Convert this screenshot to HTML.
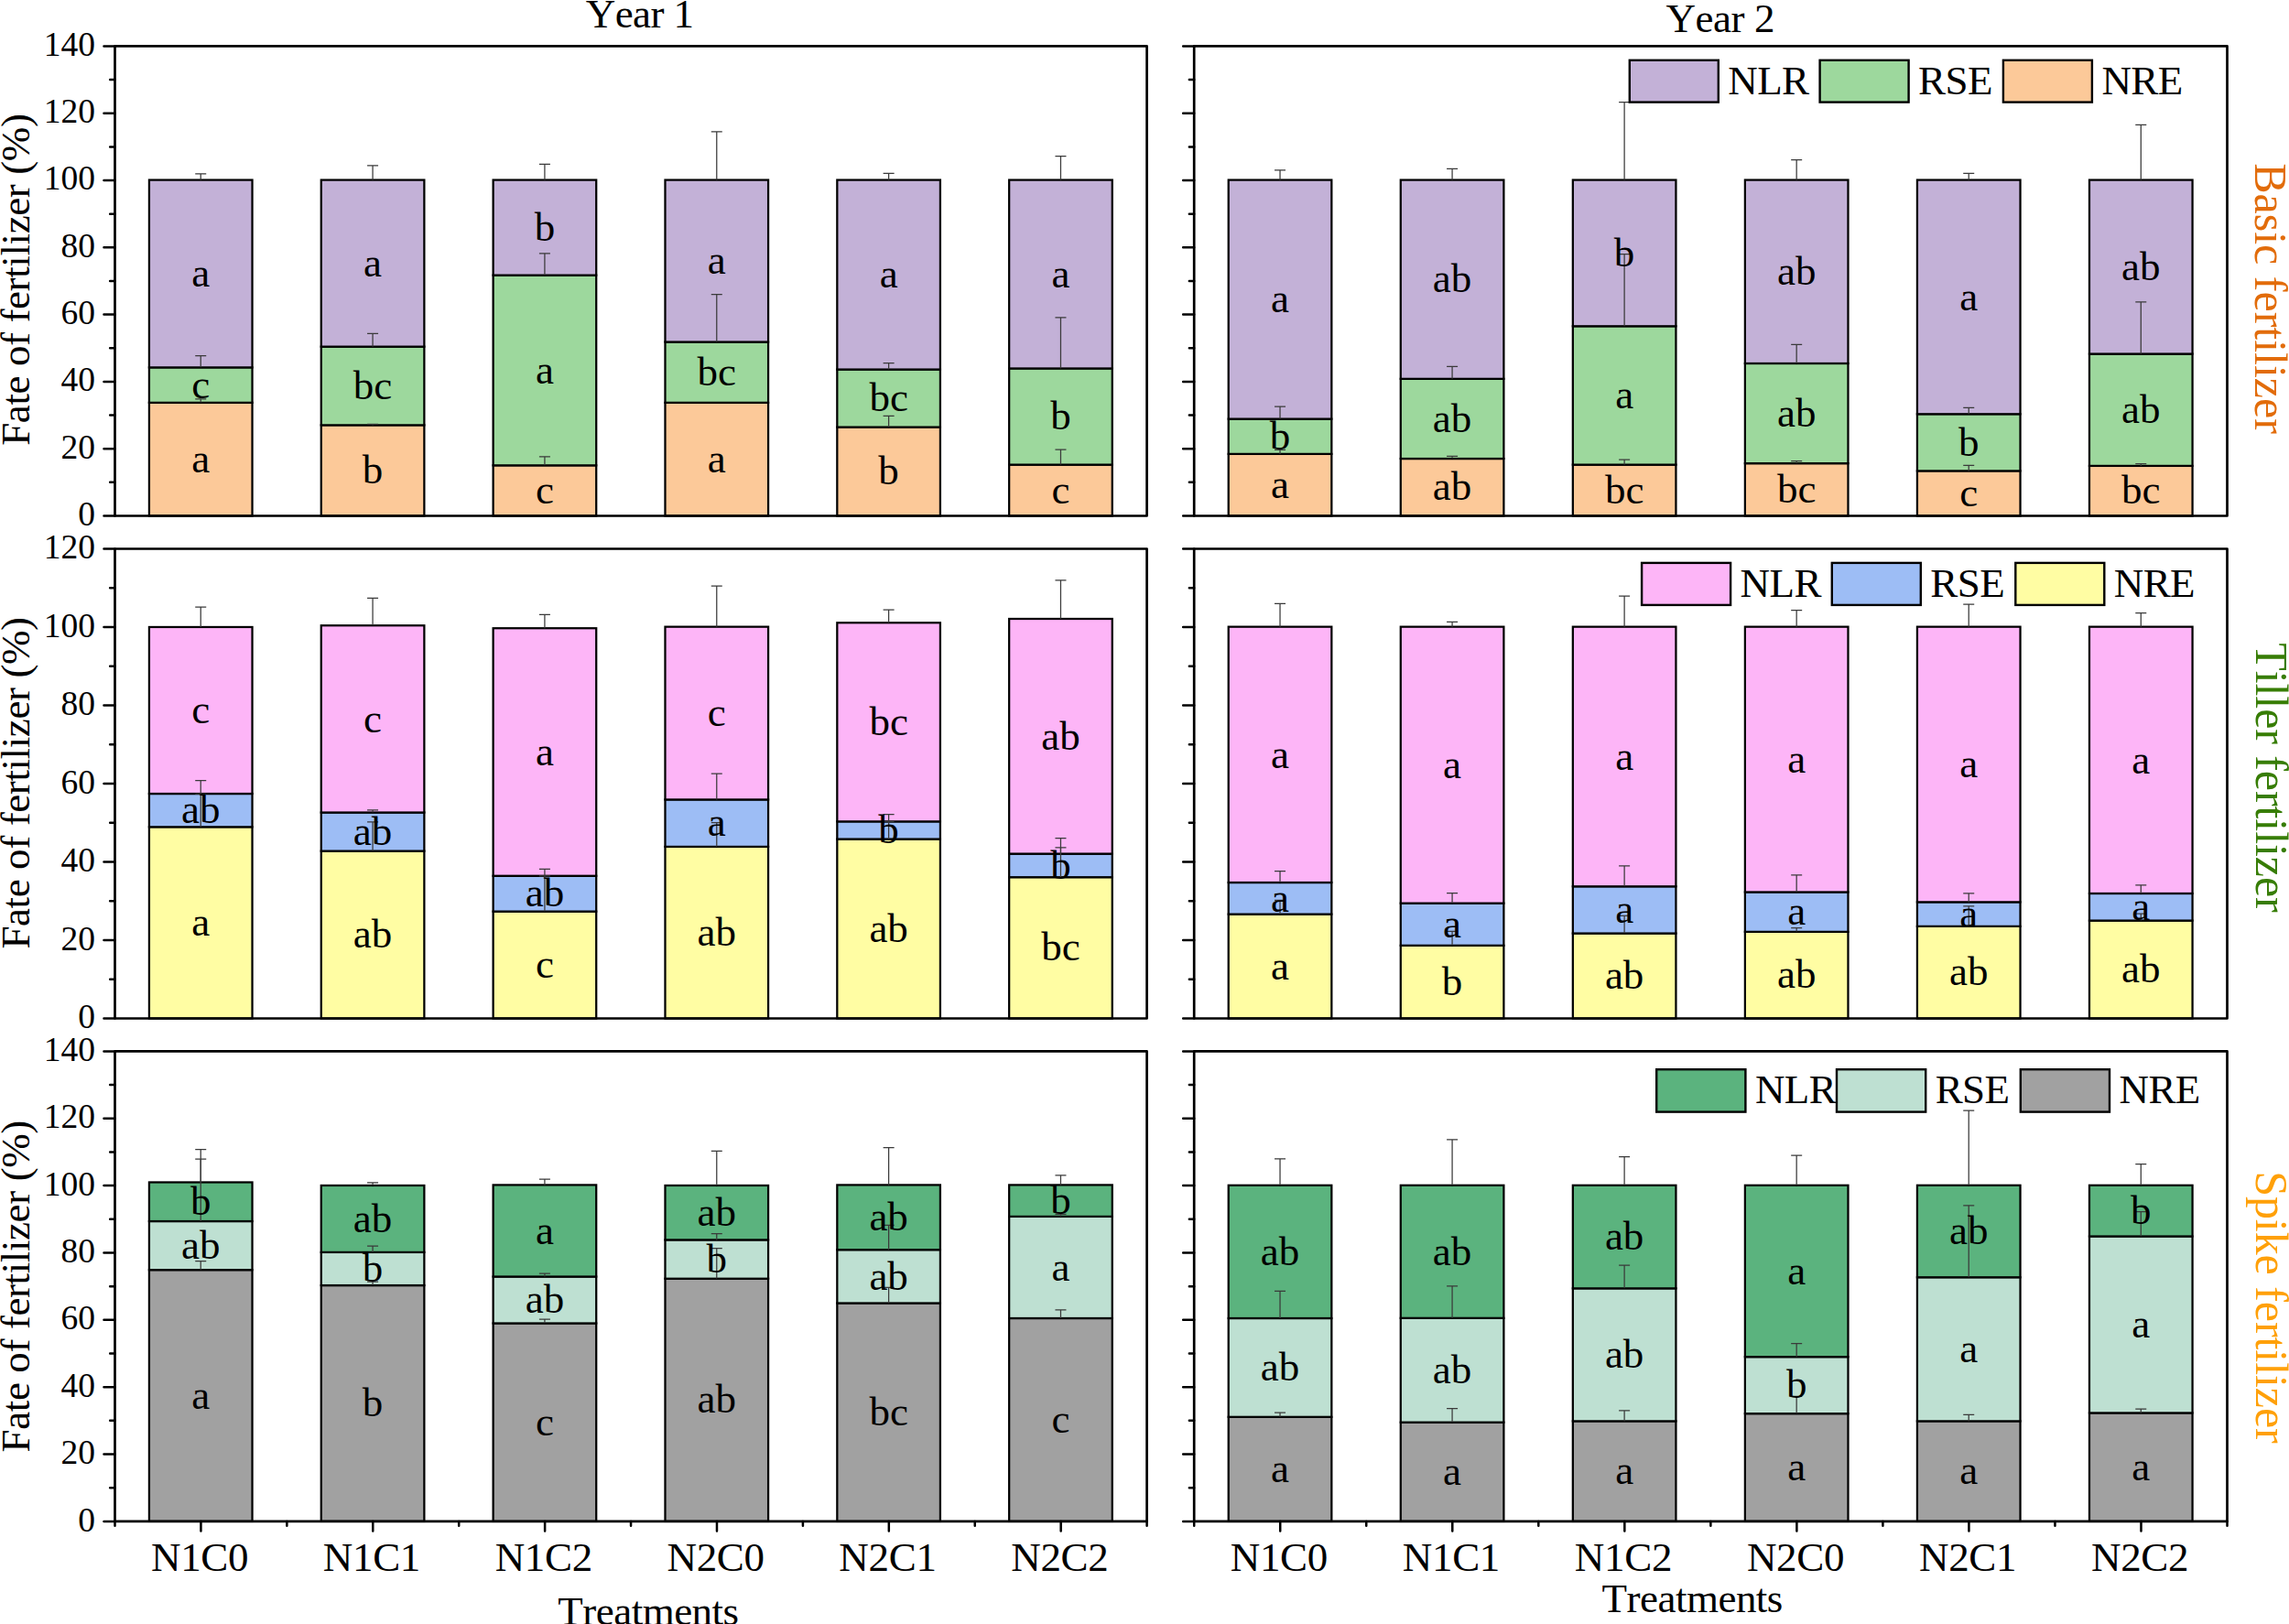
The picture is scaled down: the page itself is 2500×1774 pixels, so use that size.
<!DOCTYPE html>
<html lang="en"><head><meta charset="utf-8"><title>Fate of fertilizer</title>
<style>
html,body{margin:0;padding:0;background:#fff;}
body{width:2500px;height:1774px;overflow:hidden;}
svg{display:block;}
text{font-family:"Liberation Serif","Times New Roman",Times,serif;font-kerning:none;fill:#000;}
.t{font-size:45px;}
.m{font-size:45px;text-anchor:middle;}
.y{font-size:37.5px;text-anchor:end;}
.r{font-size:50px;}
.ax{stroke:#000;stroke-width:2.7;fill:none;stroke-linejoin:round;}
.tk{stroke:#000;stroke-width:2.5;fill:none;stroke-linecap:round;}
.b{stroke:#000;stroke-width:2.25;stroke-linejoin:miter;}
.e{stroke:#3a3a3a;stroke-width:1.25;fill:none;}
</style></head><body>
<svg width="2500" height="1774" viewBox="0 0 2500 1774">
<rect x="0" y="0" width="2500" height="1774" fill="#fff"/>
<g>
<rect class="b" x="162.93" y="439.84" width="112.6" height="123.66" fill="#FCC999"/>
<rect class="b" x="162.93" y="401.37" width="112.6" height="38.47" fill="#9DD89D"/>
<rect class="b" x="162.93" y="196.58" width="112.6" height="204.79" fill="#C3B1D7"/>
<rect class="b" x="350.77" y="464.38" width="112.6" height="99.12" fill="#FCC999"/>
<rect class="b" x="350.77" y="378.66" width="112.6" height="85.73" fill="#9DD89D"/>
<rect class="b" x="350.77" y="196.58" width="112.6" height="182.08" fill="#C3B1D7"/>
<rect class="b" x="538.62" y="508.35" width="112.6" height="55.15" fill="#FCC999"/>
<rect class="b" x="538.62" y="300.62" width="112.6" height="207.72" fill="#9DD89D"/>
<rect class="b" x="538.62" y="196.58" width="112.6" height="104.05" fill="#C3B1D7"/>
<rect class="b" x="726.48" y="439.84" width="112.6" height="123.66" fill="#FCC999"/>
<rect class="b" x="726.48" y="373.53" width="112.6" height="66.31" fill="#9DD89D"/>
<rect class="b" x="726.48" y="196.58" width="112.6" height="176.95" fill="#C3B1D7"/>
<rect class="b" x="914.32" y="466.58" width="112.6" height="96.92" fill="#FCC999"/>
<rect class="b" x="914.32" y="403.57" width="112.6" height="63.01" fill="#9DD89D"/>
<rect class="b" x="914.32" y="196.58" width="112.6" height="206.99" fill="#C3B1D7"/>
<rect class="b" x="1102.17" y="507.61" width="112.6" height="55.89" fill="#FCC999"/>
<rect class="b" x="1102.17" y="402.47" width="112.6" height="105.14" fill="#9DD89D"/>
<rect class="b" x="1102.17" y="196.58" width="112.6" height="205.89" fill="#C3B1D7"/>
<path class="e" d="M219.23 439.84V435.81M213.23 435.81H225.23"/>
<path class="e" d="M219.23 401.37V388.55M213.23 388.55H225.23"/>
<path class="e" d="M219.23 196.58V189.98M213.23 189.98H225.23"/>
<path class="e" d="M407.07 464.38V463.28M401.07 463.28H413.07"/>
<path class="e" d="M407.07 378.66V364.37M401.07 364.37H413.07"/>
<path class="e" d="M407.07 196.58V180.82M401.07 180.82H413.07"/>
<path class="e" d="M594.92 508.35V498.82M588.92 498.82H600.92"/>
<path class="e" d="M594.92 300.62V276.81M588.92 276.81H600.92"/>
<path class="e" d="M594.92 196.58V179.36M588.92 179.36H600.92"/>
<path class="e" d="M782.77 373.53V321.5M776.77 321.5H788.77"/>
<path class="e" d="M782.77 196.58V143.82M776.77 143.82H788.77"/>
<path class="e" d="M970.62 466.58V454.49M964.62 454.49H976.62"/>
<path class="e" d="M970.62 403.57V396.61M964.62 396.61H976.62"/>
<path class="e" d="M970.62 196.58V189.25M964.62 189.25H976.62"/>
<path class="e" d="M1158.47 507.61V491.13M1152.47 491.13H1164.47"/>
<path class="e" d="M1158.47 402.47V346.78M1152.47 346.78H1164.47"/>
<path class="e" d="M1158.47 196.58V170.57M1152.47 170.57H1164.47"/>
<text class="m" x="219.23" y="515.77">a</text>
<text class="m" x="219.23" y="434.8">c</text>
<text class="m" x="219.23" y="313.17">a</text>
<text class="m" x="407.07" y="528.04">b</text>
<text class="m" x="407.07" y="435.72">bc</text>
<text class="m" x="407.07" y="301.82">a</text>
<text class="m" x="594.92" y="550.02">c</text>
<text class="m" x="594.92" y="418.68">a</text>
<text class="m" x="594.92" y="262.8">b</text>
<text class="m" x="782.77" y="515.77">a</text>
<text class="m" x="782.77" y="420.88">bc</text>
<text class="m" x="782.77" y="299.25">a</text>
<text class="m" x="970.62" y="529.14">b</text>
<text class="m" x="970.62" y="449.27">bc</text>
<text class="m" x="970.62" y="314.27">a</text>
<text class="m" x="1158.47" y="549.66">c</text>
<text class="m" x="1158.47" y="469.24">b</text>
<text class="m" x="1158.47" y="313.72">a</text>
<path class="ax" d="M125.5 50.45H1252.6V563.5H125.5V50.45Z"/>
<text class="y" x="103.9" y="573.9">0</text>
<text class="y" x="103.9" y="500.61">20</text>
<text class="y" x="103.9" y="427.31">40</text>
<text class="y" x="103.9" y="354.02">60</text>
<text class="y" x="103.9" y="280.73">80</text>
<text class="y" x="103.9" y="207.44">100</text>
<text class="y" x="103.9" y="134.14">120</text>
<text class="y" x="103.9" y="60.85">140</text>
<path class="tk" d="M113.45 563.5H125.5M120.15 526.85H125.5M113.45 490.21H125.5M120.15 453.56H125.5M113.45 416.91H125.5M120.15 380.27H125.5M113.45 343.62H125.5M120.15 306.98H125.5M113.45 270.33H125.5M120.15 233.68H125.5M113.45 197.04H125.5M120.15 160.39H125.5M113.45 123.74H125.5M120.15 87.1H125.5M113.45 50.45H125.5"/>
</g>
<g>
<rect class="b" x="1341.73" y="495.89" width="112.6" height="67.61" fill="#FCC999"/>
<rect class="b" x="1341.73" y="457.61" width="112.6" height="38.28" fill="#9DD89D"/>
<rect class="b" x="1341.73" y="196.58" width="112.6" height="261.03" fill="#C3B1D7"/>
<rect class="b" x="1529.78" y="501.02" width="112.6" height="62.48" fill="#FCC999"/>
<rect class="b" x="1529.78" y="413.83" width="112.6" height="87.19" fill="#9DD89D"/>
<rect class="b" x="1529.78" y="196.58" width="112.6" height="217.25" fill="#C3B1D7"/>
<rect class="b" x="1717.83" y="507.61" width="112.6" height="55.89" fill="#FCC999"/>
<rect class="b" x="1717.83" y="356.31" width="112.6" height="151.31" fill="#9DD89D"/>
<rect class="b" x="1717.83" y="196.58" width="112.6" height="159.73" fill="#C3B1D7"/>
<rect class="b" x="1905.88" y="506.15" width="112.6" height="57.35" fill="#FCC999"/>
<rect class="b" x="1905.88" y="396.97" width="112.6" height="109.17" fill="#9DD89D"/>
<rect class="b" x="1905.88" y="196.58" width="112.6" height="200.4" fill="#C3B1D7"/>
<rect class="b" x="2093.93" y="514.39" width="112.6" height="49.11" fill="#FCC999"/>
<rect class="b" x="2093.93" y="452.29" width="112.6" height="62.1" fill="#9DD89D"/>
<rect class="b" x="2093.93" y="196.58" width="112.6" height="255.72" fill="#C3B1D7"/>
<rect class="b" x="2281.97" y="508.9" width="112.6" height="54.6" fill="#FCC999"/>
<rect class="b" x="2281.97" y="386.53" width="112.6" height="122.36" fill="#9DD89D"/>
<rect class="b" x="2281.97" y="196.58" width="112.6" height="189.96" fill="#C3B1D7"/>
<path class="e" d="M1398.03 495.89V491.49M1392.03 491.49H1404.03"/>
<path class="e" d="M1398.03 457.61V444.23M1392.03 444.23H1404.03"/>
<path class="e" d="M1398.03 196.58V185.95M1392.03 185.95H1404.03"/>
<path class="e" d="M1586.08 501.02V498.45M1580.08 498.45H1592.08"/>
<path class="e" d="M1586.08 413.83V400.27M1580.08 400.27H1592.08"/>
<path class="e" d="M1586.08 196.58V184.49M1580.08 184.49H1592.08"/>
<path class="e" d="M1774.12 507.61V502.12M1768.12 502.12H1780.12"/>
<path class="e" d="M1774.12 356.31V277.54M1768.12 277.54H1780.12"/>
<path class="e" d="M1774.12 196.58V111.58M1768.12 111.58H1780.12"/>
<path class="e" d="M1962.17 506.15V503.58M1956.17 503.58H1968.17"/>
<path class="e" d="M1962.17 396.97V376.46M1956.17 376.46H1968.17"/>
<path class="e" d="M1962.17 196.58V174.6M1956.17 174.6H1968.17"/>
<path class="e" d="M2150.23 514.39V508.35M2144.23 508.35H2156.23"/>
<path class="e" d="M2150.23 452.29V445.33M2144.23 445.33H2156.23"/>
<path class="e" d="M2150.23 196.58V189.25M2144.23 189.25H2156.23"/>
<path class="e" d="M2338.28 508.9V506.51M2332.28 506.51H2344.28"/>
<path class="e" d="M2338.28 386.53V329.75M2332.28 329.75H2344.28"/>
<path class="e" d="M2338.28 196.58V136.49M2332.28 136.49H2344.28"/>
<text class="m" x="1398.03" y="543.8">a</text>
<text class="m" x="1398.03" y="490.95">b</text>
<text class="m" x="1398.03" y="341.29">a</text>
<text class="m" x="1586.08" y="546.36">ab</text>
<text class="m" x="1586.08" y="471.62">ab</text>
<text class="m" x="1586.08" y="319.4">ab</text>
<text class="m" x="1774.12" y="549.66">bc</text>
<text class="m" x="1774.12" y="446.16">a</text>
<text class="m" x="1774.12" y="290.64">b</text>
<text class="m" x="1962.17" y="548.92">bc</text>
<text class="m" x="1962.17" y="465.76">ab</text>
<text class="m" x="1962.17" y="310.98">ab</text>
<text class="m" x="2150.23" y="553.05">c</text>
<text class="m" x="2150.23" y="497.54">b</text>
<text class="m" x="2150.23" y="338.64">a</text>
<text class="m" x="2338.28" y="550.3">bc</text>
<text class="m" x="2338.28" y="461.91">ab</text>
<text class="m" x="2338.28" y="305.75">ab</text>
<path class="ax" d="M1304.2 50.45H2432.5V563.5H1304.2V50.45Z"/>
<path class="tk" d="M1292.15 563.5H1304.2M1298.85 526.85H1304.2M1292.15 490.21H1304.2M1298.85 453.56H1304.2M1292.15 416.91H1304.2M1298.85 380.27H1304.2M1292.15 343.62H1304.2M1298.85 306.98H1304.2M1292.15 270.33H1304.2M1298.85 233.68H1304.2M1292.15 197.04H1304.2M1298.85 160.39H1304.2M1292.15 123.74H1304.2M1298.85 87.1H1304.2M1292.15 50.45H1304.2"/>
</g>
<g>
<text class="t" x="1887.3" y="102.6" textLength="88.8" lengthAdjust="spacing">NLR</text>
<text class="t" x="2095.1" y="102.6" textLength="81.33" lengthAdjust="spacing">RSE</text>
<text class="t" x="2295.4" y="102.6" textLength="88.8" lengthAdjust="spacing">NRE</text>
<rect x="1779.8" y="65.8" width="97" height="45.8" fill="#C3B1D7" stroke="#000" stroke-width="2.4"/>
<rect x="1987.6" y="65.8" width="97" height="45.8" fill="#9DD89D" stroke="#000" stroke-width="2.4"/>
<rect x="2187.9" y="65.8" width="97" height="45.8" fill="#FCC999" stroke="#000" stroke-width="2.4"/>
</g>
<g>
<rect class="b" x="162.93" y="903.33" width="112.6" height="209.17" fill="#FFFDA3"/>
<rect class="b" x="162.93" y="867.01" width="112.6" height="36.32" fill="#9DBDF5"/>
<rect class="b" x="162.93" y="684.97" width="112.6" height="182.04" fill="#FDB5F7"/>
<rect class="b" x="350.77" y="929.62" width="112.6" height="182.88" fill="#FFFDA3"/>
<rect class="b" x="350.77" y="887.52" width="112.6" height="42.09" fill="#9DBDF5"/>
<rect class="b" x="350.77" y="683.26" width="112.6" height="204.27" fill="#FDB5F7"/>
<rect class="b" x="538.62" y="995.64" width="112.6" height="116.86" fill="#FFFDA3"/>
<rect class="b" x="538.62" y="956.75" width="112.6" height="38.89" fill="#9DBDF5"/>
<rect class="b" x="538.62" y="686.25" width="112.6" height="270.5" fill="#FDB5F7"/>
<rect class="b" x="726.48" y="924.91" width="112.6" height="187.59" fill="#FFFDA3"/>
<rect class="b" x="726.48" y="873.42" width="112.6" height="51.49" fill="#9DBDF5"/>
<rect class="b" x="726.48" y="684.67" width="112.6" height="188.75" fill="#FDB5F7"/>
<rect class="b" x="914.32" y="916.58" width="112.6" height="195.92" fill="#FFFDA3"/>
<rect class="b" x="914.32" y="897.35" width="112.6" height="19.23" fill="#9DBDF5"/>
<rect class="b" x="914.32" y="680.27" width="112.6" height="217.09" fill="#FDB5F7"/>
<rect class="b" x="1102.17" y="958.2" width="112.6" height="154.3" fill="#FFFDA3"/>
<rect class="b" x="1102.17" y="932.61" width="112.6" height="25.6" fill="#9DBDF5"/>
<rect class="b" x="1102.17" y="675.99" width="112.6" height="256.61" fill="#FDB5F7"/>
<path class="e" d="M219.23 903.33V867.01M213.23 867.01H225.23"/>
<path class="e" d="M219.23 867.01V852.69M213.23 852.69H225.23"/>
<path class="e" d="M219.23 684.97V663.17M213.23 663.17H225.23"/>
<path class="e" d="M407.07 929.62V897.78M401.07 897.78H413.07"/>
<path class="e" d="M407.07 887.52V884.96M401.07 884.96H413.07"/>
<path class="e" d="M407.07 683.26V653.34M401.07 653.34H413.07"/>
<path class="e" d="M594.92 995.64V956.75M588.92 956.75H600.92"/>
<path class="e" d="M594.92 956.75V949.49M588.92 949.49H600.92"/>
<path class="e" d="M594.92 686.25V671.29M588.92 671.29H600.92"/>
<path class="e" d="M782.77 924.91V898.63M776.77 898.63H788.77"/>
<path class="e" d="M782.77 873.42V845.22M776.77 845.22H788.77"/>
<path class="e" d="M782.77 684.67V640.1M776.77 640.1H788.77"/>
<path class="e" d="M970.62 916.58V897.35M964.62 897.35H976.62"/>
<path class="e" d="M970.62 897.35V889.66M964.62 889.66H976.62"/>
<path class="e" d="M970.62 680.27V666.16M964.62 666.16H976.62"/>
<path class="e" d="M1158.47 958.2V925.77M1152.47 925.77H1164.47"/>
<path class="e" d="M1158.47 932.61V915.73M1152.47 915.73H1164.47"/>
<path class="e" d="M1158.47 675.99V633.86M1152.47 633.86H1164.47"/>
<text class="m" x="219.23" y="1022.02">a</text>
<text class="m" x="219.23" y="899.37">ab</text>
<text class="m" x="219.23" y="790.19">c</text>
<text class="m" x="407.07" y="1035.16">ab</text>
<text class="m" x="407.07" y="922.77">ab</text>
<text class="m" x="407.07" y="799.59">c</text>
<text class="m" x="594.92" y="1068.17">c</text>
<text class="m" x="594.92" y="990.39">ab</text>
<text class="m" x="594.92" y="835.7">a</text>
<text class="m" x="782.77" y="1032.81">ab</text>
<text class="m" x="782.77" y="913.37">a</text>
<text class="m" x="782.77" y="793.24">c</text>
<text class="m" x="970.62" y="1028.64">ab</text>
<text class="m" x="970.62" y="921.17">b</text>
<text class="m" x="970.62" y="803.01">bc</text>
<text class="m" x="1158.47" y="1049.45">bc</text>
<text class="m" x="1158.47" y="959.6">b</text>
<text class="m" x="1158.47" y="818.5">ab</text>
<path class="ax" d="M125.5 599.5H1252.6V1112.5H125.5V599.5Z"/>
<text class="y" x="103.9" y="1123.1">0</text>
<text class="y" x="103.9" y="1037.6">20</text>
<text class="y" x="103.9" y="952.1">40</text>
<text class="y" x="103.9" y="866.6">60</text>
<text class="y" x="103.9" y="781.1">80</text>
<text class="y" x="103.9" y="695.6">100</text>
<text class="y" x="103.9" y="610.1">120</text>
<path class="tk" d="M113.45 1112.5H125.5M120.15 1069.75H125.5M113.45 1027H125.5M120.15 984.25H125.5M113.45 941.5H125.5M120.15 898.75H125.5M113.45 856H125.5M120.15 813.25H125.5M113.45 770.5H125.5M120.15 727.75H125.5M113.45 685H125.5M120.15 642.25H125.5M113.45 599.5H125.5"/>
</g>
<g>
<rect class="b" x="1341.73" y="998.63" width="112.6" height="113.87" fill="#FFFDA3"/>
<rect class="b" x="1341.73" y="964.02" width="112.6" height="34.61" fill="#9DBDF5"/>
<rect class="b" x="1341.73" y="684.67" width="112.6" height="279.35" fill="#FDB5F7"/>
<rect class="b" x="1529.78" y="1032.82" width="112.6" height="79.68" fill="#FFFDA3"/>
<rect class="b" x="1529.78" y="986.66" width="112.6" height="46.15" fill="#9DBDF5"/>
<rect class="b" x="1529.78" y="684.67" width="112.6" height="302" fill="#FDB5F7"/>
<rect class="b" x="1717.83" y="1019.57" width="112.6" height="92.93" fill="#FFFDA3"/>
<rect class="b" x="1717.83" y="968.29" width="112.6" height="51.28" fill="#9DBDF5"/>
<rect class="b" x="1717.83" y="684.67" width="112.6" height="283.62" fill="#FDB5F7"/>
<rect class="b" x="1905.88" y="1017.86" width="112.6" height="94.64" fill="#FFFDA3"/>
<rect class="b" x="1905.88" y="974.49" width="112.6" height="43.37" fill="#9DBDF5"/>
<rect class="b" x="1905.88" y="684.67" width="112.6" height="289.82" fill="#FDB5F7"/>
<rect class="b" x="2093.93" y="1011.88" width="112.6" height="100.62" fill="#FFFDA3"/>
<rect class="b" x="2093.93" y="985.38" width="112.6" height="26.49" fill="#9DBDF5"/>
<rect class="b" x="2093.93" y="684.67" width="112.6" height="300.71" fill="#FDB5F7"/>
<rect class="b" x="2281.97" y="1005.59" width="112.6" height="106.91" fill="#FFFDA3"/>
<rect class="b" x="2281.97" y="975.98" width="112.6" height="29.61" fill="#9DBDF5"/>
<rect class="b" x="2281.97" y="684.67" width="112.6" height="291.31" fill="#FDB5F7"/>
<path class="e" d="M1398.03 998.63V983.25M1392.03 983.25H1404.03"/>
<path class="e" d="M1398.03 964.02V951.62M1392.03 951.62H1404.03"/>
<path class="e" d="M1398.03 684.67V659.33M1392.03 659.33H1404.03"/>
<path class="e" d="M1586.08 1032.82V1017.43M1580.08 1017.43H1592.08"/>
<path class="e" d="M1586.08 986.66V975.55M1580.08 975.55H1592.08"/>
<path class="e" d="M1586.08 684.67V679.41M1580.08 679.41H1592.08"/>
<path class="e" d="M1774.12 1019.57V1000.34M1768.12 1000.34H1780.12"/>
<path class="e" d="M1774.12 968.29V945.81M1768.12 945.81H1780.12"/>
<path class="e" d="M1774.12 684.67V651.21M1768.12 651.21H1780.12"/>
<path class="e" d="M1962.17 1017.86V1013.59M1956.17 1013.59H1968.17"/>
<path class="e" d="M1962.17 974.49V955.9M1956.17 955.9H1968.17"/>
<path class="e" d="M1962.17 684.67V666.59M1956.17 666.59H1968.17"/>
<path class="e" d="M2150.23 1011.88V989.87M2144.23 989.87H2156.23"/>
<path class="e" d="M2150.23 985.38V975.98M2144.23 975.98H2156.23"/>
<path class="e" d="M2150.23 684.67V660.18M2144.23 660.18H2156.23"/>
<path class="e" d="M2338.28 1005.59V998.2M2332.28 998.2H2344.28"/>
<path class="e" d="M2338.28 975.98V966.79M2332.28 966.79H2344.28"/>
<path class="e" d="M2338.28 684.67V669.58M2332.28 669.58H2344.28"/>
<text class="m" x="1398.03" y="1069.66">a</text>
<text class="m" x="1398.03" y="995.52">a</text>
<text class="m" x="1398.03" y="838.54">a</text>
<text class="m" x="1586.08" y="1086.76">b</text>
<text class="m" x="1586.08" y="1023.94">a</text>
<text class="m" x="1586.08" y="849.87">a</text>
<text class="m" x="1774.12" y="1080.13">ab</text>
<text class="m" x="1774.12" y="1008.13">a</text>
<text class="m" x="1774.12" y="840.68">a</text>
<text class="m" x="1962.17" y="1079.28">ab</text>
<text class="m" x="1962.17" y="1010.37">a</text>
<text class="m" x="1962.17" y="843.78">a</text>
<text class="m" x="2150.23" y="1076.29">ab</text>
<text class="m" x="2150.23" y="1012.83">a</text>
<text class="m" x="2150.23" y="849.22">a</text>
<text class="m" x="2338.28" y="1073.15">ab</text>
<text class="m" x="2338.28" y="1004.99">a</text>
<text class="m" x="2338.28" y="844.52">a</text>
<path class="ax" d="M1304.2 599.5H2432.5V1112.5H1304.2V599.5Z"/>
<path class="tk" d="M1292.15 1112.5H1304.2M1298.85 1069.75H1304.2M1292.15 1027H1304.2M1298.85 984.25H1304.2M1292.15 941.5H1304.2M1298.85 898.75H1304.2M1292.15 856H1304.2M1298.85 813.25H1304.2M1292.15 770.5H1304.2M1298.85 727.75H1304.2M1292.15 685H1304.2M1298.85 642.25H1304.2M1292.15 599.5H1304.2"/>
</g>
<g>
<text class="t" x="1900.6" y="651.8" textLength="88.8" lengthAdjust="spacing">NLR</text>
<text class="t" x="2108.3" y="651.8" textLength="81.33" lengthAdjust="spacing">RSE</text>
<text class="t" x="2308.8" y="651.8" textLength="88.8" lengthAdjust="spacing">NRE</text>
<rect x="1793.1" y="614.9" width="97" height="46" fill="#FDB5F7" stroke="#000" stroke-width="2.4"/>
<rect x="2000.8" y="614.9" width="97" height="46" fill="#9DBDF5" stroke="#000" stroke-width="2.4"/>
<rect x="2201.3" y="614.9" width="97" height="46" fill="#FFFDA3" stroke="#000" stroke-width="2.4"/>
</g>
<g>
<rect class="b" x="162.93" y="1387.2" width="112.6" height="274.7" fill="#A1A1A1"/>
<rect class="b" x="162.93" y="1334.02" width="112.6" height="53.17" fill="#BEE0D2"/>
<rect class="b" x="162.93" y="1291.49" width="112.6" height="42.54" fill="#5BB37E"/>
<rect class="b" x="350.77" y="1404.07" width="112.6" height="257.83" fill="#A1A1A1"/>
<rect class="b" x="350.77" y="1367.91" width="112.6" height="36.16" fill="#BEE0D2"/>
<rect class="b" x="350.77" y="1294.97" width="112.6" height="72.94" fill="#5BB37E"/>
<rect class="b" x="538.62" y="1445.51" width="112.6" height="216.39" fill="#A1A1A1"/>
<rect class="b" x="538.62" y="1394.53" width="112.6" height="50.97" fill="#BEE0D2"/>
<rect class="b" x="538.62" y="1294.42" width="112.6" height="100.11" fill="#5BB37E"/>
<rect class="b" x="726.48" y="1396.73" width="112.6" height="265.17" fill="#A1A1A1"/>
<rect class="b" x="726.48" y="1354.38" width="112.6" height="42.36" fill="#BEE0D2"/>
<rect class="b" x="726.48" y="1294.97" width="112.6" height="59.41" fill="#5BB37E"/>
<rect class="b" x="914.32" y="1423.5" width="112.6" height="238.4" fill="#A1A1A1"/>
<rect class="b" x="914.32" y="1365.19" width="112.6" height="58.31" fill="#BEE0D2"/>
<rect class="b" x="914.32" y="1294.42" width="112.6" height="70.78" fill="#5BB37E"/>
<rect class="b" x="1102.17" y="1440" width="112.6" height="221.9" fill="#A1A1A1"/>
<rect class="b" x="1102.17" y="1328.89" width="112.6" height="111.11" fill="#BEE0D2"/>
<rect class="b" x="1102.17" y="1294.42" width="112.6" height="34.47" fill="#5BB37E"/>
<path class="e" d="M219.23 1387.2V1377.66M213.23 1377.66H225.23"/>
<path class="e" d="M219.23 1334.02V1266.18M213.23 1266.18H225.23"/>
<path class="e" d="M219.23 1291.49V1255.55M213.23 1255.55H225.23"/>
<path class="e" d="M407.07 1404.07V1400.03M401.07 1400.03H413.07"/>
<path class="e" d="M407.07 1367.91V1361.16M401.07 1361.16H413.07"/>
<path class="e" d="M407.07 1294.97V1291.85M401.07 1291.85H413.07"/>
<path class="e" d="M594.92 1445.51V1441.1M588.92 1441.1H600.92"/>
<path class="e" d="M594.92 1394.53V1391.23M588.92 1391.23H600.92"/>
<path class="e" d="M594.92 1294.42V1288.18M588.92 1288.18H600.92"/>
<path class="e" d="M782.77 1396.73V1363.73M776.77 1363.73H788.77"/>
<path class="e" d="M782.77 1354.38V1347.59M776.77 1347.59H788.77"/>
<path class="e" d="M782.77 1294.97V1257.38M776.77 1257.38H788.77"/>
<path class="e" d="M970.62 1423.5V1406.27M964.62 1406.27H976.62"/>
<path class="e" d="M970.62 1365.19V1338.42M964.62 1338.42H976.62"/>
<path class="e" d="M970.62 1294.42V1253.71M964.62 1253.71H976.62"/>
<path class="e" d="M1158.47 1440V1430.84M1152.47 1430.84H1164.47"/>
<path class="e" d="M1158.47 1328.89V1326.32M1152.47 1326.32H1164.47"/>
<path class="e" d="M1158.47 1294.42V1283.78M1152.47 1283.78H1164.47"/>
<text class="m" x="219.23" y="1538.55">a</text>
<text class="m" x="219.23" y="1374.81">ab</text>
<text class="m" x="219.23" y="1326.95">b</text>
<text class="m" x="407.07" y="1546.98">b</text>
<text class="m" x="407.07" y="1400.19">b</text>
<text class="m" x="407.07" y="1345.64">ab</text>
<text class="m" x="594.92" y="1567.7">c</text>
<text class="m" x="594.92" y="1434.22">ab</text>
<text class="m" x="594.92" y="1358.68">a</text>
<text class="m" x="782.77" y="1543.32">ab</text>
<text class="m" x="782.77" y="1389.75">b</text>
<text class="m" x="782.77" y="1338.87">ab</text>
<text class="m" x="970.62" y="1556.7">bc</text>
<text class="m" x="970.62" y="1408.55">ab</text>
<text class="m" x="970.62" y="1344.01">ab</text>
<text class="m" x="1158.47" y="1564.95">c</text>
<text class="m" x="1158.47" y="1398.65">a</text>
<text class="m" x="1158.47" y="1325.85">b</text>
<path class="ax" d="M125.5 1148.4H1252.6V1661.9H125.5V1148.4Z"/>
<text class="y" x="103.9" y="1672.5">0</text>
<text class="y" x="103.9" y="1599.14">20</text>
<text class="y" x="103.9" y="1525.79">40</text>
<text class="y" x="103.9" y="1452.43">60</text>
<text class="y" x="103.9" y="1379.07">80</text>
<text class="y" x="103.9" y="1305.71">100</text>
<text class="y" x="103.9" y="1232.36">120</text>
<text class="y" x="103.9" y="1159">140</text>
<path class="tk" d="M113.45 1661.9H125.5M120.15 1625.22H125.5M113.45 1588.54H125.5M120.15 1551.86H125.5M113.45 1515.19H125.5M120.15 1478.51H125.5M113.45 1441.83H125.5M120.15 1405.15H125.5M113.45 1368.47H125.5M120.15 1331.79H125.5M113.45 1295.11H125.5M120.15 1258.44H125.5M113.45 1221.76H125.5M120.15 1185.08H125.5M113.45 1148.4H125.5"/>
<text class="m" x="218.23" y="1716.2" textLength="106.51" lengthAdjust="spacing">N1C0</text>
<text class="m" x="406.07" y="1716.2" textLength="106.51" lengthAdjust="spacing">N1C1</text>
<text class="m" x="593.92" y="1716.2" textLength="106.51" lengthAdjust="spacing">N1C2</text>
<text class="m" x="781.77" y="1716.2" textLength="106.51" lengthAdjust="spacing">N2C0</text>
<text class="m" x="969.62" y="1716.2" textLength="106.51" lengthAdjust="spacing">N2C1</text>
<text class="m" x="1157.47" y="1716.2" textLength="106.51" lengthAdjust="spacing">N2C2</text>
<path class="tk" d="M219.43 1661.9V1672.45M407.27 1661.9V1672.45M595.12 1661.9V1672.45M782.98 1661.9V1672.45M970.82 1661.9V1672.45M1158.67 1661.9V1672.45M125.5 1661.9V1666.75M313.35 1661.9V1666.75M501.2 1661.9V1666.75M689.05 1661.9V1666.75M876.9 1661.9V1666.75M1064.75 1661.9V1666.75M1252.6 1661.9V1666.75"/>
</g>
<g>
<rect class="b" x="1341.73" y="1547.82" width="112.6" height="114.08" fill="#A1A1A1"/>
<rect class="b" x="1341.73" y="1440" width="112.6" height="107.81" fill="#BEE0D2"/>
<rect class="b" x="1341.73" y="1294.79" width="112.6" height="145.22" fill="#5BB37E"/>
<rect class="b" x="1529.78" y="1553.69" width="112.6" height="108.21" fill="#A1A1A1"/>
<rect class="b" x="1529.78" y="1439.82" width="112.6" height="113.86" fill="#BEE0D2"/>
<rect class="b" x="1529.78" y="1294.79" width="112.6" height="145.04" fill="#5BB37E"/>
<rect class="b" x="1717.83" y="1552.4" width="112.6" height="109.5" fill="#A1A1A1"/>
<rect class="b" x="1717.83" y="1407.37" width="112.6" height="145.04" fill="#BEE0D2"/>
<rect class="b" x="1717.83" y="1294.79" width="112.6" height="112.58" fill="#5BB37E"/>
<rect class="b" x="1905.88" y="1544.15" width="112.6" height="117.75" fill="#A1A1A1"/>
<rect class="b" x="1905.88" y="1482.18" width="112.6" height="61.97" fill="#BEE0D2"/>
<rect class="b" x="1905.88" y="1294.79" width="112.6" height="187.39" fill="#5BB37E"/>
<rect class="b" x="2093.93" y="1552.4" width="112.6" height="109.5" fill="#A1A1A1"/>
<rect class="b" x="2093.93" y="1395.27" width="112.6" height="157.14" fill="#BEE0D2"/>
<rect class="b" x="2093.93" y="1294.79" width="112.6" height="100.48" fill="#5BB37E"/>
<rect class="b" x="2281.97" y="1543.42" width="112.6" height="118.48" fill="#A1A1A1"/>
<rect class="b" x="2281.97" y="1350.53" width="112.6" height="192.89" fill="#BEE0D2"/>
<rect class="b" x="2281.97" y="1294.79" width="112.6" height="55.74" fill="#5BB37E"/>
<path class="e" d="M1398.03 1547.82V1543.05M1392.03 1543.05H1404.03"/>
<path class="e" d="M1398.03 1440V1410.3M1392.03 1410.3H1404.03"/>
<path class="e" d="M1398.03 1294.79V1265.82M1392.03 1265.82H1404.03"/>
<path class="e" d="M1586.08 1553.69V1538.65M1580.08 1538.65H1592.08"/>
<path class="e" d="M1586.08 1439.82V1404.8M1580.08 1404.8H1592.08"/>
<path class="e" d="M1586.08 1294.79V1244.91M1580.08 1244.91H1592.08"/>
<path class="e" d="M1774.12 1552.4V1540.85M1768.12 1540.85H1780.12"/>
<path class="e" d="M1774.12 1407.37V1382.06M1768.12 1382.06H1780.12"/>
<path class="e" d="M1774.12 1294.79V1263.62M1768.12 1263.62H1780.12"/>
<path class="e" d="M1962.17 1544.15V1525.45M1956.17 1525.45H1968.17"/>
<path class="e" d="M1962.17 1482.18V1467.69M1956.17 1467.69H1968.17"/>
<path class="e" d="M1962.17 1294.79V1262.15M1956.17 1262.15H1968.17"/>
<path class="e" d="M2150.23 1552.4V1545.25M2144.23 1545.25H2156.23"/>
<path class="e" d="M2150.23 1395.27V1316.79M2144.23 1316.79H2156.23"/>
<path class="e" d="M2150.23 1294.79V1213.01M2144.23 1213.01H2156.23"/>
<path class="e" d="M2338.28 1543.42V1539.02M2332.28 1539.02H2344.28"/>
<path class="e" d="M2338.28 1350.53V1323.57M2332.28 1323.57H2344.28"/>
<path class="e" d="M2338.28 1294.79V1271.68M2332.28 1271.68H2344.28"/>
<text class="m" x="1398.03" y="1618.86">a</text>
<text class="m" x="1398.03" y="1508.11">ab</text>
<text class="m" x="1398.03" y="1381.6">ab</text>
<text class="m" x="1586.08" y="1621.79">a</text>
<text class="m" x="1586.08" y="1510.95">ab</text>
<text class="m" x="1586.08" y="1381.5">ab</text>
<text class="m" x="1774.12" y="1621.15">a</text>
<text class="m" x="1774.12" y="1494.08">ab</text>
<text class="m" x="1774.12" y="1365.28">ab</text>
<text class="m" x="1962.17" y="1617.03">a</text>
<text class="m" x="1962.17" y="1527.36">b</text>
<text class="m" x="1962.17" y="1402.68">a</text>
<text class="m" x="2150.23" y="1621.15">a</text>
<text class="m" x="2150.23" y="1488.03">a</text>
<text class="m" x="2150.23" y="1359.23">ab</text>
<text class="m" x="2338.28" y="1616.66">a</text>
<text class="m" x="2338.28" y="1461.17">a</text>
<text class="m" x="2338.28" y="1336.86">b</text>
<path class="ax" d="M1304.2 1148.4H2432.5V1661.9H1304.2V1148.4Z"/>
<path class="tk" d="M1292.15 1661.9H1304.2M1298.85 1625.22H1304.2M1292.15 1588.54H1304.2M1298.85 1551.86H1304.2M1292.15 1515.19H1304.2M1298.85 1478.51H1304.2M1292.15 1441.83H1304.2M1298.85 1405.15H1304.2M1292.15 1368.47H1304.2M1298.85 1331.79H1304.2M1292.15 1295.11H1304.2M1298.85 1258.44H1304.2M1292.15 1221.76H1304.2M1298.85 1185.08H1304.2M1292.15 1148.4H1304.2"/>
<text class="m" x="1397.03" y="1716.2" textLength="106.51" lengthAdjust="spacing">N1C0</text>
<text class="m" x="1585.08" y="1716.2" textLength="106.51" lengthAdjust="spacing">N1C1</text>
<text class="m" x="1773.12" y="1716.2" textLength="106.51" lengthAdjust="spacing">N1C2</text>
<text class="m" x="1961.17" y="1716.2" textLength="106.51" lengthAdjust="spacing">N2C0</text>
<text class="m" x="2149.23" y="1716.2" textLength="106.51" lengthAdjust="spacing">N2C1</text>
<text class="m" x="2337.28" y="1716.2" textLength="106.51" lengthAdjust="spacing">N2C2</text>
<path class="tk" d="M1398.23 1661.9V1672.45M1586.28 1661.9V1672.45M1774.33 1661.9V1672.45M1962.38 1661.9V1672.45M2150.43 1661.9V1672.45M2338.47 1661.9V1672.45M1304.2 1661.9V1666.75M1492.25 1661.9V1666.75M1680.3 1661.9V1666.75M1868.35 1661.9V1666.75M2056.4 1661.9V1666.75M2244.45 1661.9V1666.75M2432.5 1661.9V1666.75"/>
</g>
<g>
<text class="t" x="1916.9" y="1204.9" textLength="88.8" lengthAdjust="spacing">NLR</text>
<text class="t" x="2113.7" y="1204.9" textLength="81.33" lengthAdjust="spacing">RSE</text>
<text class="t" x="2314.5" y="1204.9" textLength="88.8" lengthAdjust="spacing">NRE</text>
<rect x="1809.2" y="1168.2" width="97.2" height="46.4" fill="#5BB37E" stroke="#000" stroke-width="2.4"/>
<rect x="2006" y="1168.2" width="97.2" height="46.4" fill="#BEE0D2" stroke="#000" stroke-width="2.4"/>
<rect x="2206.8" y="1168.2" width="97.2" height="46.4" fill="#A1A1A1" stroke="#000" stroke-width="2.4"/>
</g>
<text class="t" transform="translate(31.9 486.8) rotate(-90)" x="0" y="0" textLength="362.72" lengthAdjust="spacing">Fate of fertilizer (%)</text>
<text class="t" transform="translate(31.9 1036.6) rotate(-90)" x="0" y="0" textLength="362.72" lengthAdjust="spacing">Fate of fertilizer (%)</text>
<text class="t" transform="translate(31.9 1586.4) rotate(-90)" x="0" y="0" textLength="362.72" lengthAdjust="spacing">Fate of fertilizer (%)</text>
<text class="t" x="639.8" y="29.7" textLength="118.19" lengthAdjust="spacing">Year 1</text>
<text class="t" x="1819.4" y="35.4" textLength="118.98" lengthAdjust="spacing">Year 2</text>
<text class="t" x="609.3" y="1774.5" textLength="197.76" lengthAdjust="spacing">Treatments</text>
<text class="t" x="1749.6" y="1760.7" textLength="197.76" lengthAdjust="spacing">Treatments</text>
<text class="r" transform="translate(2462.9 178.2) rotate(90)" x="0" y="0" style="fill:#E26C0A">Basic fertilizer</text>
<text class="r" transform="translate(2464.3 702.2) rotate(90)" x="0" y="0" style="fill:#377D05" textLength="294.55" lengthAdjust="spacing">Tiller fertilizer</text>
<text class="r" transform="translate(2464.3 1279.2) rotate(90)" x="0" y="0" style="fill:#FFA008" textLength="297.55" lengthAdjust="spacing">Spike fertilizer</text>
</svg></body></html>
